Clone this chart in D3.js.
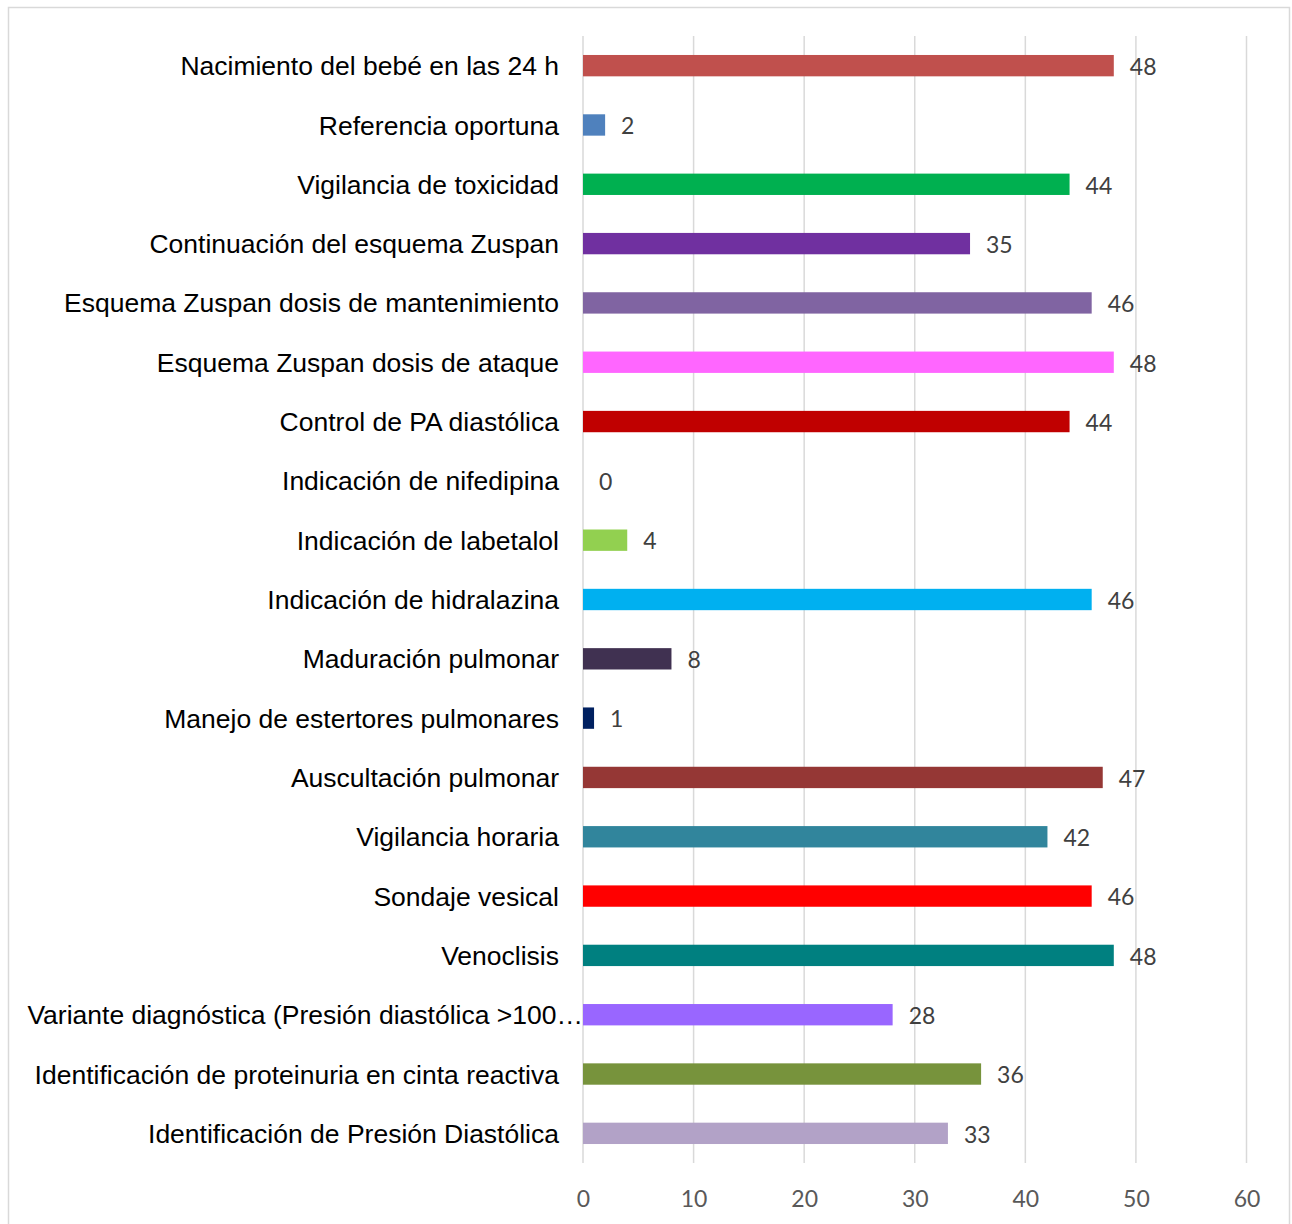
<!DOCTYPE html>
<html>
<head>
<meta charset="utf-8">
<script src="https://cdn.jsdelivr.net/npm/d3@7"></script>
<style>
  html, body { margin: 0; padding: 0; background: #fff; }
  svg { display: block; }
</style>
</head>
<body>
<svg id="chart" width="1292" height="1224"></svg>
<script>
// Activities, listed top to bottom
const categories = [
  "Nacimiento del bebé en las 24 h",
  "Referencia oportuna",
  "Vigilancia de toxicidad",
  "Continuación del esquema Zuspan",
  "Esquema Zuspan dosis de mantenimiento",
  "Esquema Zuspan dosis de ataque",
  "Control de PA diastólica",
  "Indicación de nifedipina",
  "Indicación de labetalol",
  "Indicación de hidralazina",
  "Maduración pulmonar",
  "Manejo de estertores pulmonares",
  "Auscultación pulmonar",
  "Vigilancia horaria",
  "Sondaje vesical",
  "Venoclisis",
  "Variante diagnóstica (Presión diastólica >100…",
  "Identificación de proteinuria en cinta reactiva",
  "Identificación de Presión Diastólica"
];

const values = [48, 2, 44, 35, 46, 48, 44, 0, 4, 46, 8, 1, 47, 42, 46, 48, 28, 36, 33];

const barColors = [
  "#C0504D", "#4F81BD", "#00B050", "#7030A0", "#8064A2", "#FF66FF", "#C00000",
  "#A5A5A5", "#92D050", "#00B0F0", "#403151", "#002060", "#953735", "#31859C",
  "#FF0000", "#008080", "#9966FF", "#77933C", "#B2A2C7"
];

const xTicks = [0, 10, 20, 30, 40, 50, 60];

const svg = d3.select("#chart");

// outer chart frame
svg.append("rect")
  .attr("x", 8.5).attr("y", 7.5)
  .attr("width", 1281).attr("height", 1230)
  .attr("fill", "#fff")
  .attr("stroke", "#d9d9d9")
  .attr("stroke-width", 1.5);

const plot = { left: 583, right: 1246.5, top: 36, bottom: 1163 };

const x = d3.scaleLinear().domain([0, 60]).range([plot.left, plot.right]);
const y = d3.scaleBand().domain(categories).range([plot.top, plot.bottom]).paddingInner(0.64).paddingOuter(0.32);

// vertical gridlines
svg.append("g")
  .selectAll("line")
  .data(xTicks)
  .join("line")
  .attr("x1", d => x(d)).attr("x2", d => x(d))
  .attr("y1", plot.top).attr("y2", plot.bottom)
  .attr("stroke", "#d9d9d9")
  .attr("stroke-width", 1.5);

// bars
svg.append("g")
  .selectAll("rect")
  .data(values)
  .join("rect")
  .attr("x", x(0))
  .attr("y", (d, i) => y(categories[i]))
  .attr("width", d => x(d) - x(0))
  .attr("height", y.bandwidth())
  .attr("fill", (d, i) => barColors[i]);

// value labels
svg.append("g")
  .selectAll("text")
  .data(values)
  .join("text")
  .attr("x", d => x(d) + 16)
  .attr("y", (d, i) => y(categories[i]) + y.bandwidth() / 2 + 1)
  .attr("dy", "0.36em")
  .attr("font-family", "Lato, 'Open Sans', sans-serif")
  .attr("font-size", 23)
  .attr("fill", "#404040")
  .text(d => d);

// category labels
svg.append("g")
  .selectAll("text")
  .data(categories)
  .join("text")
  .attr("x", d => d.endsWith("…") ? 583 : 559)
  .attr("y", d => y(d) + y.bandwidth() / 2)
  .attr("dy", "0.36em")
  .attr("text-anchor", "end")
  .attr("font-family", "'Liberation Sans', Arial, sans-serif")
  .attr("font-size", 26.5)
  .attr("fill", "#000")
  .text(d => d);

// x axis tick labels
const xAxis = d3.axisBottom(x).tickValues(xTicks).tickSize(0).tickPadding(0);
const gx = svg.append("g")
  .attr("transform", `translate(0, ${plot.bottom + 28})`)
  .call(xAxis);
gx.select(".domain").remove();
gx.selectAll("text")
  .attr("font-family", "Lato, 'Open Sans', sans-serif")
  .attr("font-size", 23)
  .attr("fill", "#595959");
</script>
</body>
</html>
